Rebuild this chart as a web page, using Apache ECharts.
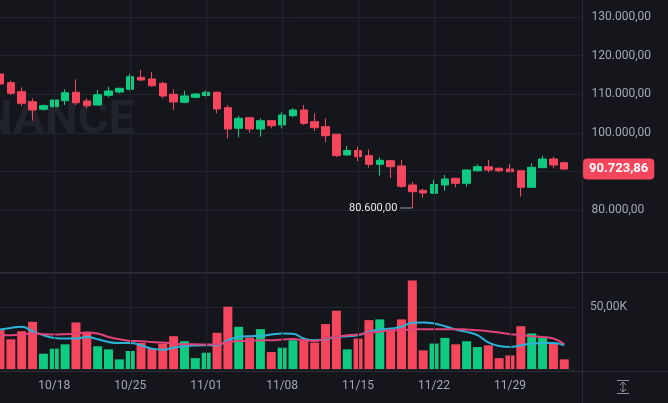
<!DOCTYPE html>
<html>
<head>
<meta charset="utf-8">
<script src="https://cdn.jsdelivr.net/npm/echarts@6/dist/echarts.min.js"></script>
<style>
html,body{margin:0;padding:0;background:#15161c;}
#main{width:668px;height:403px;}
</style>
</head>
<body>
<div id="main"></div>
<script>
// 日期 (最后一个为空位)
var dates = ['10/13','10/14','10/15','10/16','10/17','10/18','10/19','10/20','10/21','10/22',
  '10/23','10/24','10/25','10/26','10/27','10/28','10/29','10/30','10/31','11/01',
  '11/02','11/03','11/04','11/05','11/06','11/07','11/08','11/09','11/10','11/11',
  '11/12','11/13','11/14','11/15','11/16','11/17','11/18','11/19','11/20','11/21',
  '11/22','11/23','11/24','11/25','11/26','11/27','11/28','11/29','11/30','12/01',
  '12/02','12/03','12/04','12/05'];
var tickDates = ['10/18','10/25','11/01','11/08','11/15','11/22','11/29'];
var priceTicks = [80000, 90000, 100000, 110000, 120000, 130000];

var opens = [115400,113140,110800,108200,106230,106900,108460,110650,108390,107350,
  109870,110720,111420,114540,114100,112980,110130,108050,109350,109810,
  110650,106650,101300,104050,101110,103270,102150,104570,106050,103010,
  101710,99740,94360,95530,94180,91950,92880,91510,86570,85190,
  84420,86570,88310,87010,90280,91320,90910,90730,90280,85970,
  91060,93320,92360];
var closes = [112800,110390,107790,106050,107170,108650,110540,107940,107170,110020,
  110980,111680,114700,113840,112360,109680,108130,109680,110200,110650,
  106310,101110,103890,101110,103270,101970,104750,106050,102590,101450,
  99370,94180,95530,93920,91950,92990,91320,86230,84830,84490,
  86700,88130,87010,90470,91320,90470,90280,90020,85970,91170,
  93320,91760,90723.86];
var lows = [112280,109940,107090,103270,105920,106050,107350,107350,106490,107220,
  109350,110390,111060,113660,112100,109090,106050,107790,109090,109550,
  105190,98700,98960,100150,99110,101300,101300,104150,102150,100590,
  97660,93840,94280,92800,91060,88990,88390,85790,80600,83270,
  84300,85090,85970,86130,90020,89870,89870,89870,83530,85920,
  91060,90910,90500];
var highs = [115920,113660,111940,109090,107480,109350,111420,114020,109090,111240,
  112100,111840,115400,116440,115990,113400,111420,111060,110460,111110,
  110850,107350,104490,104100,103890,103320,105450,106490,107350,105190,
  103890,99820,96700,96520,95840,93760,92930,93060,87350,85610,
  87950,89170,88390,90600,91950,93060,91170,91950,90340,92210,
  94180,93920,92620];
// 成交量 (K)
var volumes = [31.5,24.1,30.6,38.2,12.4,16.5,20.0,37.7,30.1,18.4,
  15.9,7.8,14.6,21.1,16.5,20.6,26.6,22.5,8.8,13.2,
  29.3,50.5,34.2,25.5,32.3,13.7,17.3,23.3,24.1,21.4,
  36.4,47.2,15.9,24.7,39.6,40.2,32.0,40.2,71.7,15.1,
  20.6,25.2,20.0,22.5,17.8,19.2,8.8,11.0,34.7,28.8,
  25.2,20.6,7.8];
var volMaFast = [32.0,33.3,34.2,30.6,27.4,25.2,24.7,24.7,26.0,24.1,
  21.9,21.1,21.1,19.2,16.5,15.7,17.3,18.4,19.0,19.2,
  19.2,23.3,26.0,26.6,26.8,27.9,28.8,28.5,24.7,23.3,
  24.1,26.0,26.6,27.4,30.1,32.0,32.8,34.2,37.4,37.7,
  36.9,34.7,32.0,30.1,27.4,21.5,18.6,17.8,19.2,20.6,
  21.1,21.1,19.2];
var volMaSlow = [27.4,27.4,27.9,28.8,28.2,27.9,28.2,28.8,29.6,28.8,
  26.0,24.1,22.7,22.5,21.9,21.4,20.6,20.0,20.0,19.8,
  20.0,21.9,22.7,22.7,23.3,23.3,23.9,24.4,23.3,22.7,
  24.7,26.0,27.4,27.9,29.3,30.1,31.5,31.5,32.0,32.3,
  32.3,32.3,32.3,32.0,31.5,30.6,29.6,28.2,27.4,26.6,
  26.0,24.7,20.0];

var UP = '#0ecb81', DOWN = '#f6465d';
var GRID = '#22252c', SEP = '#2b2e36', TXT = '#a3a8b0';
var FONT = 'Roboto, sans-serif';

function eu(v) {
    var p = v.toFixed(2).split('.');
    return p[0].replace(/\B(?=(\d{3})+(?!\d))/g, '.') + ',' + p[1];
}

(function () {
    var myChart = echarts.init(document.getElementById('main'));

    var candleData = opens.map(function (o, i) { return [o, closes[i], lows[i], highs[i]]; });
    var volData = volumes.map(function (v, i) {
        return {value: v, itemStyle: {color: closes[i] >= opens[i] ? UP : DOWN}};
    });
    var lowIdx = lows.indexOf(Math.min.apply(null, lows));
    var lastClose = closes[closes.length - 1];

    var vLines = tickDates.map(function (d) { return {xAxis: d}; });

    var option = {
        backgroundColor: '#15161c',
        animation: false,
        textStyle: {fontFamily: FONT},
        graphic: [
            {type: 'text', z: 0, x: 135, y: 121,
             style: {text: 'BINANCE', font: 'bold 47px Roboto, sans-serif', fill: '#20232a',
                     textAlign: 'right', textVerticalAlign: 'middle', align: 'right', verticalAlign: 'middle'}},
            {type: 'line', z: 5, shape: {x1: 582.5, y1: 0, x2: 582.5, y2: 403}, style: {stroke: SEP, lineWidth: 1}},
            {type: 'line', z: 5, shape: {x1: 0, y1: 272.5, x2: 668, y2: 272.5}, style: {stroke: SEP, lineWidth: 1}},
            {type: 'line', z: 5, shape: {x1: 0, y1: 371.5, x2: 668, y2: 371.5}, style: {stroke: SEP, lineWidth: 1}},
            // 右下角图标
            {type: 'line', z: 5, shape: {x1: 617, y1: 380.5, x2: 629, y2: 380.5}, style: {stroke: '#8b9099', lineWidth: 1}},
            {type: 'line', z: 5, shape: {x1: 617, y1: 393.5, x2: 629, y2: 393.5}, style: {stroke: '#8b9099', lineWidth: 1}},
            {type: 'line', z: 5, shape: {x1: 623, y1: 382, x2: 623, y2: 392}, style: {stroke: '#8b9099', lineWidth: 1}},
            {type: 'polyline', z: 5, shape: {points: [[620, 385], [623, 382], [626, 385]]}, style: {stroke: '#8b9099', lineWidth: 1, fill: null}},
            {type: 'polyline', z: 5, shape: {points: [[620, 389], [623, 392], [626, 389]]}, style: {stroke: '#8b9099', lineWidth: 1, fill: null}}
        ],
        grid: [
            {left: 0, right: 92.9, top: 0, height: 272.5},
            {left: 0, right: 92.9, top: 273, bottom: 34},
            // 价格刻度网格 (80k - 130k)
            {left: 0, right: 85.5, top: 17, bottom: 192.7}
        ],
        xAxis: [
            {type: 'category', gridIndex: 0, data: dates, boundaryGap: false,
             axisLine: {show: false}, axisTick: {show: false}, axisLabel: {show: false}, splitLine: {show: false}},
            {type: 'category', gridIndex: 1, data: dates, boundaryGap: false,
             axisLine: {show: false}, axisTick: {show: false}, splitLine: {show: false},
             axisLabel: {color: TXT, fontSize: 12, margin: 11, fontFamily: FONT,
                 interval: function (i, v) { return tickDates.indexOf(v) >= 0; }}},
            {type: 'category', gridIndex: 2, data: dates, show: false}
        ],
        yAxis: [
            {type: 'value', gridIndex: 0, position: 'right', min: 63847, max: 134615, show: false},
            {type: 'value', gridIndex: 1, position: 'right', min: 0, max: 77.8, interval: 50,
             splitLine: {show: true, lineStyle: {color: GRID, width: 1}},
             axisLine: {show: false}, axisTick: {show: false},
             axisLabel: {color: TXT, fontSize: 12, margin: 15, fontFamily: FONT,
                 formatter: function (v) { return v === 50 ? eu(v) + 'K' : ''; }}},
            {type: 'value', gridIndex: 2, position: 'right', min: priceTicks[0], max: priceTicks[priceTicks.length - 1],
             interval: 10000,
             splitLine: {show: true, lineStyle: {color: GRID, width: 1}},
             axisLine: {show: false}, axisTick: {show: false},
             axisLabel: {color: TXT, fontSize: 12, margin: 9, fontFamily: FONT,
                 formatter: function (v) { return eu(v); }}}
        ],
        series: [
            {
                name: 'grid-price', type: 'line', xAxisIndex: 0, yAxisIndex: 0, data: [], z: 1, silent: true,
                markLine: {silent: true, symbol: 'none', label: {show: false},
                    lineStyle: {color: GRID, width: 1, type: 'solid'},
                    data: vLines}
            },
            {
                name: 'ticks', type: 'line', xAxisIndex: 2, yAxisIndex: 2, data: [], silent: true
            },
            {
                name: 'K', type: 'candlestick', xAxisIndex: 0, yAxisIndex: 0, z: 3,
                data: candleData, barWidth: 8,
                itemStyle: {color: UP, color0: DOWN, borderColor: UP, borderColor0: DOWN, borderWidth: 1},
                markPoint: {
                    symbol: 'rect', symbolSize: [12, 1], symbolOffset: [-6, 0],
                    itemStyle: {color: '#9aa0a8'},
                    label: {show: true, position: 'left', distance: 3, color: '#e8eaed', fontSize: 11, fontFamily: FONT,
                        formatter: function () { return eu(lows[lowIdx]); }},
                    data: [{coord: [dates[lowIdx], lows[lowIdx]]}]
                },
                markLine: {
                    symbol: 'none', silent: true,
                    lineStyle: {color: 'rgba(0,0,0,0)', width: 1, type: 'solid'},
                    label: {show: true, position: 'end', distance: 8, color: '#fff', fontSize: 13, fontWeight: 'bold',
                        fontFamily: FONT, backgroundColor: DOWN, borderRadius: 4, padding: [4, 6],
                        formatter: function () { return eu(lastClose); }},
                    data: [{yAxis: lastClose}]
                }
            },
            {
                name: 'grid-vol', type: 'line', xAxisIndex: 1, yAxisIndex: 1, data: [], z: 1, silent: true,
                markLine: {silent: true, symbol: 'none', label: {show: false},
                    lineStyle: {color: GRID, width: 1, type: 'solid'},
                    data: vLines}
            },
            {
                name: 'Vol', type: 'bar', xAxisIndex: 1, yAxisIndex: 1, z: 3,
                data: volData, barWidth: 9
            },
            {
                name: 'MA-a', type: 'line', xAxisIndex: 1, yAxisIndex: 1, z: 4,
                data: volMaFast, smooth: true, symbol: 'none',
                lineStyle: {color: '#2bb3d8', width: 2}
            },
            {
                name: 'MA-b', type: 'line', xAxisIndex: 1, yAxisIndex: 1, z: 4,
                data: volMaSlow, smooth: true, symbol: 'none',
                lineStyle: {color: '#e0437a', width: 2}
            }
        ]
    };
    myChart.setOption(option);
})();
</script>
</body>
</html>
